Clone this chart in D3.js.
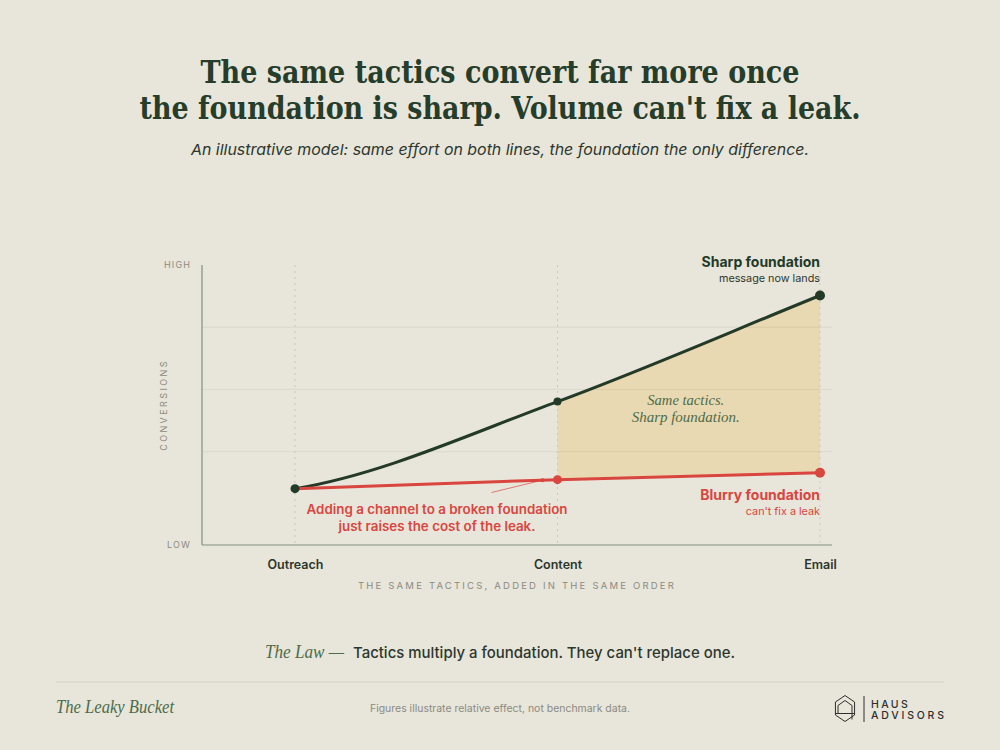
<!DOCTYPE html>
<html><head><meta charset="utf-8">
<script src="https://cdn.jsdelivr.net/npm/d3@7"></script>
<style>
html,body{margin:0;padding:0;background:#e8e5da;}
svg{display:block;}
</style></head>
<body>
<svg id="chart" width="1000" height="750"></svg>
<script>
// ---------- data ----------
const categories = ["Outreach", "Content", "Email"];
const sharpValues = [1.81, 4.61, 8.02];
const blurryValues = [1.81, 2.10, 2.32];
const yDomain = [0, 9];
const gridValues = [3, 5, 7];
const yEndLabels = ["LOW", "HIGH"];
const titleLines = ["The same tactics convert far more once", "the foundation is sharp. Volume can't fix a leak."];
const subtitle = "An illustrative model: same effort on both lines, the foundation the only difference.";

// ---------- setup ----------
const W = 1000, H = 750;
const svg = d3.select("#chart");
const C = {
  bg: "#e8e5da", title: "#253d2a", text: "#2c372e", green: "#233a28", red: "#d9463f",
  muted: "#8b8b83", axis: "#7f927b", grid: "rgba(60,60,30,0.07)", fill: "#e9d9b2", italic: "#4d6c4a"
};
const sans = "Inter, 'Noto Sans', 'DejaVu Sans', sans-serif";
const serif = "'DejaVu Serif', 'Liberation Serif', serif";
const serifIt = "'Liberation Serif', 'DejaVu Serif', serif";

svg.append("rect").attr("width", W).attr("height", H).attr("fill", C.bg);

// title
const titleWidths = [599, 721];
const titleBaselines = [82.5, 119];
titleLines.forEach((t, i) => {
  svg.append("text").attr("x", 500).attr("y", titleBaselines[i]).attr("text-anchor", "middle")
    .attr("font-family", serif).attr("font-weight", 700).attr("font-size", 32)
    .attr("fill", C.title).attr("textLength", titleWidths[i]).attr("lengthAdjust", "spacingAndGlyphs").text(t);
});
svg.append("text").attr("x", 500).attr("y", 155).attr("text-anchor", "middle")
  .attr("font-family", sans).attr("font-style", "italic").attr("font-size", 15)
  .attr("fill", C.text).attr("textLength", 618).attr("lengthAdjust", "spacingAndGlyphs").text(subtitle);

// ---------- scales ----------
const plot = { left: 202, right: 832 };
const x = d3.scalePoint().domain(categories).range([295, 820]);
const y = d3.scaleLinear().domain(yDomain).range([545, 265]);

// custom curve: eased start, averaged interior tangents
function curveEase(context) {
  let pts = [];
  return {
    _line: undefined,
    areaStart() { this._line = 0; },
    areaEnd() { this._line = NaN; },
    lineStart() { pts = []; },
    point(px, py) { pts.push([+px, +py]); },
    lineEnd() {
      const n = pts.length;
      if (n) {
        if (this._line) context.lineTo(pts[0][0], pts[0][1]); else context.moveTo(pts[0][0], pts[0][1]);
        if (n > 1) {
          const s = [];
          for (let i = 0; i < n - 1; i++) s.push((pts[i + 1][1] - pts[i][1]) / (pts[i + 1][0] - pts[i][0]));
          const m = pts.map((p, i) => i === 0 ? 0.5 * s[0] : (i === n - 1 ? s[n - 2] : (s[i - 1] + s[i]) / 2));
          for (let i = 0; i < n - 1; i++) {
            const h = (pts[i + 1][0] - pts[i][0]) / 3;
            context.bezierCurveTo(pts[i][0] + h, pts[i][1] + m[i] * h,
              pts[i + 1][0] - h, pts[i + 1][1] - m[i + 1] * h, pts[i + 1][0], pts[i + 1][1]);
          }
        }
      }
      if (this._line || (this._line !== 0 && n === 1)) context.closePath();
      this._line = 1 - this._line;
    }
  };
}

const rows = categories.map((c, i) => ({ c, sharp: sharpValues[i], blurry: blurryValues[i] }));

// gap fill (clipped from Content to Email)
svg.append("clipPath").attr("id", "gapClip").append("rect")
  .attr("x", x("Content")).attr("y", y(yDomain[1])).attr("width", x("Email") - x("Content")).attr("height", y(yDomain[0]) - y(yDomain[1]));
const area = d3.area().x(d => x(d.c)).y0(d => y(d.blurry)).y1(d => y(d.sharp)).curve(curveEase);
svg.append("path").attr("d", area(rows)).attr("fill", C.fill).attr("clip-path", "url(#gapClip)");

// gridlines
svg.append("g").selectAll("line").data(gridValues).join("line")
  .attr("x1", plot.left).attr("x2", plot.right).attr("y1", d => y(d)).attr("y2", d => y(d))
  .attr("stroke", C.grid).attr("stroke-width", 1);

// vertical dashed category guides
svg.append("g").selectAll("line").data(categories).join("line")
  .attr("x1", d => x(d)).attr("x2", d => x(d)).attr("y1", y(yDomain[1])).attr("y2", y(yDomain[0]))
  .attr("stroke", "#cbc8ba").attr("stroke-width", 1).attr("stroke-dasharray", "2,4");

// axes
svg.append("line").attr("x1", plot.left).attr("x2", plot.left).attr("y1", y(yDomain[1])).attr("y2", y(yDomain[0]))
  .attr("stroke", C.axis).attr("stroke-width", 1.2);
svg.append("line").attr("x1", plot.left).attr("x2", plot.right).attr("y1", y(yDomain[0])).attr("y2", y(yDomain[0]))
  .attr("stroke", C.axis).attr("stroke-width", 1.2);

svg.append("g").selectAll("text").data(yEndLabels).join("text")
  .attr("x", 191).attr("y", (d, i) => y(yDomain[i]) + 3).attr("text-anchor", "end")
  .attr("font-family", sans).attr("font-size", 9).attr("letter-spacing", 1.1).attr("fill", C.muted).text(d => d);
svg.append("text").attr("transform", `translate(167,${(y(yDomain[0]) + y(yDomain[1])) / 2}) rotate(-90)`)
  .attr("text-anchor", "middle").attr("font-family", sans).attr("font-size", 9).attr("letter-spacing", 2.4)
  .attr("fill", C.muted).text("CONVERSIONS");

// x tick labels via axis
const xAxis = svg.append("g").attr("transform", `translate(0,${y(yDomain[0])})`)
  .call(d3.axisBottom(x).tickSize(0).tickPadding(15));
xAxis.select(".domain").remove();
xAxis.selectAll("text").attr("font-family", sans).attr("font-size", 12.5).attr("font-weight", 600).attr("fill", C.text);

svg.append("text").attr("x", (plot.left + plot.right) / 2).attr("y", 589).attr("text-anchor", "middle")
  .attr("font-family", sans).attr("font-size", 9.5).attr("letter-spacing", 2.2).attr("fill", C.muted)
  .text("THE SAME TACTICS, ADDED IN THE SAME ORDER");

// lines
const sharpLine = d3.line().x(d => x(d.c)).y(d => y(d.sharp)).curve(curveEase);
const blurryLine = d3.line().x(d => x(d.c)).y(d => y(d.blurry));
svg.append("path").attr("d", sharpLine(rows)).attr("fill", "none").attr("stroke", C.green).attr("stroke-width", 3).attr("stroke-linecap", "round");
svg.append("path").attr("d", blurryLine(rows)).attr("fill", "none").attr("stroke", C.red).attr("stroke-width", 3).attr("stroke-linecap", "round");

// leader for annotation
const leadT = 1 - 15 / (x("Content") - x("Outreach"));
const leadX = x("Content") - 15;
const leadY = y(d3.interpolateNumber(blurryValues[0], blurryValues[1])(leadT));
svg.append("line").attr("x1", 491.5).attr("y1", 492.5).attr("x2", leadX).attr("y2", leadY)
  .attr("stroke", C.red).attr("stroke-width", 0.9).attr("opacity", 0.75);
svg.append("circle").attr("cx", leadX).attr("cy", leadY).attr("r", 2).attr("fill", C.red);

// dots
const redR = [0, 4.5, 5], darkR = [4.5, 4, 5];
svg.append("g").selectAll("circle").data(rows.slice(1)).join("circle")
  .attr("cx", d => x(d.c)).attr("cy", d => y(d.blurry)).attr("r", (d, i) => redR[i + 1]).attr("fill", C.red);
svg.append("g").selectAll("circle").data(rows).join("circle")
  .attr("cx", d => x(d.c)).attr("cy", d => y(d.sharp)).attr("r", (d, i) => darkR[i]).attr("fill", C.green);

// annotations
const ex = x("Email");
svg.append("text").attr("x", ex).attr("y", 267).attr("text-anchor", "end").attr("font-family", sans)
  .attr("font-size", 14).attr("font-weight", 700).attr("fill", C.green).text("Sharp foundation");
svg.append("text").attr("x", ex).attr("y", 282).attr("text-anchor", "end").attr("font-family", sans)
  .attr("font-size", 10.8).attr("fill", C.text).text("message now lands");
svg.append("text").attr("x", ex).attr("y", 500).attr("text-anchor", "end").attr("font-family", sans)
  .attr("font-size", 14).attr("font-weight", 700).attr("fill", C.red).text("Blurry foundation");
svg.append("text").attr("x", ex).attr("y", 514.5).attr("text-anchor", "end").attr("font-family", sans)
  .attr("font-size", 10.8).attr("fill", C.red).text("can't fix a leak");

const gapX = (x("Content") + x("Email")) / 2 - 3;
[["Same tactics.", 405, 77], ["Sharp foundation.", 421.7, 108]].forEach(([t, yy, w]) => {
  svg.append("text").attr("x", gapX).attr("y", yy).attr("text-anchor", "middle").attr("font-family", serifIt)
    .attr("font-style", "italic").attr("font-size", 15).attr("fill", C.italic)
    .attr("textLength", w).attr("lengthAdjust", "spacingAndGlyphs").text(t);
});

[["Adding a channel to a broken foundation", 514, 261], ["just raises the cost of the leak.", 531, 197]].forEach(([t, yy, w]) => {
  svg.append("text").attr("x", 437).attr("y", yy).attr("text-anchor", "middle").attr("font-family", sans)
    .attr("font-size", 13).attr("font-weight", 600).attr("fill", C.red)
    .attr("textLength", w).attr("lengthAdjust", "spacingAndGlyphs").text(t);
});

// the law
svg.append("text").attr("x", 265).attr("y", 658).attr("font-family", serifIt).attr("font-style", "italic")
  .attr("font-size", 18).attr("fill", C.italic).attr("textLength", 79).attr("lengthAdjust", "spacingAndGlyphs").text("The Law —");
svg.append("text").attr("x", 353).attr("y", 658).attr("font-family", sans).attr("font-size", 15).attr("font-weight", 500)
  .attr("fill", C.text).attr("textLength", 382).attr("lengthAdjust", "spacingAndGlyphs")
  .text("Tactics multiply a foundation. They can't replace one.");

// footer
svg.append("line").attr("x1", 56).attr("x2", 944).attr("y1", 682).attr("y2", 682).attr("stroke", "#d3cfc2").attr("stroke-width", 1);
svg.append("text").attr("x", 56).attr("y", 713).attr("font-family", serifIt).attr("font-style", "italic")
  .attr("font-size", 18).attr("fill", C.italic).attr("textLength", 118).attr("lengthAdjust", "spacingAndGlyphs").text("The Leaky Bucket");
svg.append("text").attr("x", 500).attr("y", 712).attr("text-anchor", "middle").attr("font-family", sans)
  .attr("font-size", 10).attr("fill", C.muted).attr("textLength", 260).attr("lengthAdjust", "spacingAndGlyphs")
  .text("Figures illustrate relative effect, not benchmark data.");

// logo
const logo = svg.append("g").attr("fill", "none").attr("stroke", "#2e2e2e").attr("stroke-width", 1);
const hc = [845, 708.5], hr = 13;
const hex = d3.range(6).map(i => { const a = Math.PI / 3 * i - Math.PI / 2; return [hc[0] + hr * Math.cos(a) * 0.85, hc[1] + hr * Math.sin(a)]; });
logo.append("path").attr("d", d3.line()(hex) + "Z");
logo.append("path").attr("d", `M${hc[0] - 7},${hc[1] + 5} L${hc[0] - 7},${hc[1] - 3} L${hc[0]},${hc[1] - 8} L${hc[0] + 7},${hc[1] - 3} L${hc[0] + 7},${hc[1] + 11}`);
logo.append("path").attr("d", `M${hc[0] - 10},${hc[1] + 5} L${hc[0] + 10},${hc[1] + 5}`);
logo.append("line").attr("x1", 864).attr("x2", 864).attr("y1", 696).attr("y2", 722);
svg.append("text").attr("x", 871).attr("y", 707.5).attr("font-family", sans).attr("font-size", 10.5).attr("font-weight", 500)
  .attr("letter-spacing", 2.4).attr("fill", "#2e2e2e").text("HAUS");
svg.append("text").attr("x", 871).attr("y", 718.5).attr("font-family", sans).attr("font-size", 10.5).attr("font-weight", 500)
  .attr("fill", "#2e2e2e").attr("textLength", 73).attr("lengthAdjust", "spacing").text("ADVISORS");
</script>
</body></html>
